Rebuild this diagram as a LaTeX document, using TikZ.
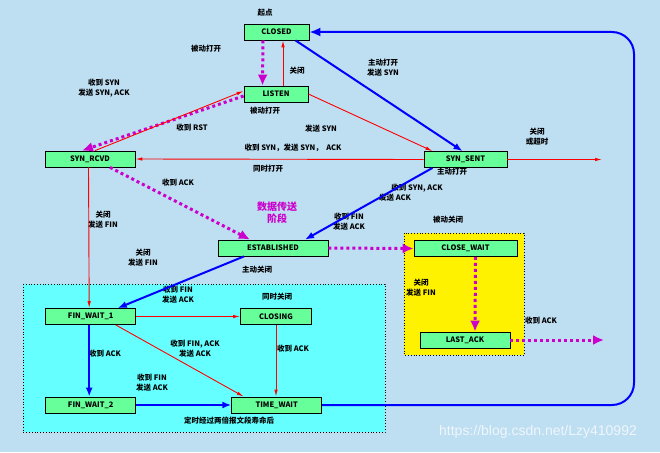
\documentclass[tikz,border=0pt]{standalone}
\usepackage{fontspec}
\newfontfamily\cjk{Noto Sans CJK SC}
\newfontfamily\wmfont{Liberation Sans}
\usepackage{tikz}
\usetikzlibrary{arrows.meta, calc}

\definecolor{bgblue}{RGB}{190,222,242}
\definecolor{stategreen}{RGB}{102,255,153}
\definecolor{cyanbox}{RGB}{102,255,255}
\definecolor{mag}{RGB}{204,0,204}

\tikzset{
  state/.style={draw, thick, fill=stategreen, minimum height=16pt, inner sep=0pt,
    font=\cjk\bfseries\fontsize{7.5}{9}\selectfont},
  lbl/.style={align=center, inner sep=0pt, font=\cjk\bfseries\fontsize{7.5}{10}\selectfont},
  redline/.style={draw=red, line width=0.9pt, -{Latex[length=7pt,width=3.5pt]}},
  blueline/.style={draw=blue, line width=2pt, -{Latex[length=9pt,width=7pt]}},
  magline/.style={draw=mag, line width=3pt, dash pattern=on 3pt off 3pt,
    -{Latex[length=11pt,width=10pt]}},
}

\begin{document}
\begin{tikzpicture}[x=1pt, y=-1pt]
        % Background and areas
        \fill[bgblue] (0,0) rectangle (660,452);
        \useasboundingbox (0,0) rectangle (660,452);
        \draw[fill=cyanbox, dotted, thick] (23,284) rectangle (385,432);
        \draw[fill=yellow, dotted, thick] (404,233) rectangle (524,355);

        % Nodes
        \node [state, minimum width=65pt] (closed)  at (276.5, 32)  {CLOSED};
        \node [state, minimum width=64pt] (listen)  at (276, 94)    {LISTEN};
        \node [state, minimum width=90pt] (synrcvd) at (90, 159)    {SYN\_RCVD};
        \node [state, minimum width=83pt] (synsent) at (465.5, 159.5) {SYN\_SENT};
        \node [state, minimum width=110pt] (estab)  at (273, 248)   {ESTABLISHED};
        \node [state, minimum width=103pt] (clwait) at (465.5, 248.5) {CLOSE\_WAIT};
        \node [state, minimum width=90pt] (lastack) at (465, 340)   {LAST\_ACK};
        \node [state, minimum width=90pt] (fin1)    at (90.7, 316.5) {FIN\_WAIT\_1};
        \node [state, minimum width=71pt] (closing) at (276, 316.5) {CLOSING};
        \node [state, minimum width=90pt] (fin2)    at (90.7, 405)  {FIN\_WAIT\_2};
        \node [state, minimum width=90pt] (timewait) at (276.7, 405) {TIME\_WAIT};

        \coordinate (sentend) at (602, 159.5);
        \coordinate (lastend) at (604, 340);

        % Labels
        \node [lbl] (start)   at (265, 13)  {起点};
        \node [lbl] (passive) at (206, 49)  {被动打开};
        \node [lbl] (close1)  at (297, 71)  {关闭};
        \node [lbl] (passive2) at (265, 111) {被动打开};
        \node [lbl] (active)  at (383, 68)  {主动打开\\发送 SYN};
        \node [lbl] (rsyn)    at (104, 88)  {收到 SYN\\发送 SYN, ACK};
        \node [lbl] (rrst)    at (192, 128) {收到 RST};
        \node [lbl] (ssyn)    at (321, 129) {发送 SYN};
        \node [lbl] (simul)   at (293, 148) {收到 SYN，发送 SYN，\ \ ACK};
        \node [lbl] (simul2)  at (268, 169) {同时打开};
        \node [lbl] (timeout) at (537, 137) {关闭\\或超时};
        \node [lbl] (active2) at (452, 172) {主动打开};
        \node [lbl] (rsynack) at (417, 188) {收到 SYN, ACK};
        \node [lbl] (sack)    at (395, 198) {发送 ACK};
        \node [lbl] (rack)    at (178, 183) {收到 ACK};
        \node [lbl, text=mag, font=\cjk\bfseries\fontsize{10}{12}\selectfont] (data) at (277, 213) {数据传送\\阶段};
        \node [lbl] (rfin)    at (349, 222) {收到 FIN\\发送 ACK};
        \node [lbl] (pclose)  at (448, 220) {被动关闭};
        \node [lbl] (cfin)    at (421, 288) {关闭\\发送 FIN};
        \node [lbl] (lack)    at (541, 321) {收到 ACK};
        \node [lbl] (cfin2)   at (103, 220) {关闭\\发送 FIN};
        \node [lbl] (cfin3)   at (143, 258) {关闭\\发送 FIN};
        \node [lbl] (aclose)  at (257, 270) {主动关闭};
        \node [lbl] (rfin2)   at (178, 295) {收到 FIN\\发送 ACK};
        \node [lbl] (sclose)  at (277, 297) {同时关闭};
        \node [lbl] (rfinack) at (195, 349) {收到 FIN, ACK\\发送 ACK};
        \node [lbl] (rack2)   at (293, 349) {收到 ACK};
        \node [lbl] (rack3)   at (105, 354) {收到 ACK};
        \node [lbl] (rfin3)   at (152, 383) {收到 FIN\\发送 ACK};
        \node [lbl] (msl)     at (229, 421) {定时经过两倍报文段寿命后};
        \node [text=white, opacity=0.75, inner sep=0pt, font=\wmfont\fontsize{14}{16}\selectfont]
              (wm) at (538, 432) {https://blog.csdn.net/Lzy410992};

        % Edges
        \draw[magline] ([xshift=-13.5pt]closed.south) -- ([xshift=-13.5pt]listen.north);
        \draw[redline] ([xshift=7pt]listen.north) -- ([xshift=6.5pt]closed.south);
        \draw[blueline] ([xshift=19pt]closed.south) -- ([xshift=-3pt]synsent.north);
        \draw[redline] (listen.east) -- ([xshift=-33pt]synsent.north);
        \draw[magline] ([yshift=-2pt]listen.west) -- ([xshift=-8pt]synrcvd.north);
        \draw[redline] ([xshift=5pt]synrcvd.north) -- ([yshift=3pt]listen.west);
        \draw[redline] (synsent.west) -- (synrcvd.east);
        \draw[redline] (synsent.east) -- (sentend);
        \draw[blueline] ([xshift=-33pt]synsent.south) -- ([xshift=32pt]estab.north);
        \draw[magline] ([xshift=20pt]synrcvd.south) -- ([xshift=-23pt]estab.north);
        \draw[magline] (estab.east) -- (clwait.west);
        \draw[magline] ([xshift=10pt]clwait.south) -- ([xshift=10pt]lastack.north);
        \draw[magline] (lastack.east) -- (lastend);
        \draw[redline] ([xshift=-1.5pt]synrcvd.south) -- ([xshift=-1.5pt]fin1.north);
        \draw[blueline] ([xshift=-29pt]estab.south) -- ([xshift=27pt]fin1.north);
        \draw[redline] (fin1.east) -- (closing.west);
        \draw[redline] ([xshift=25pt]fin1.south) -- ([xshift=-33pt]timewait.north);
        \draw[redline] (closing.south) -- (timewait.north -| closing.south);
        \draw[blueline] ([xshift=-1.5pt]fin1.south) -- ([xshift=-1.5pt]fin2.north);
        \draw[blueline] (fin2.east) -- (timewait.west);
        \draw[blueline, -{Latex[length=11pt,width=9pt]}, rounded corners=22pt] (timewait.east) -- (634,405) -- (634,32) -- (closed.east);

      \end{tikzpicture}
\end{document}
